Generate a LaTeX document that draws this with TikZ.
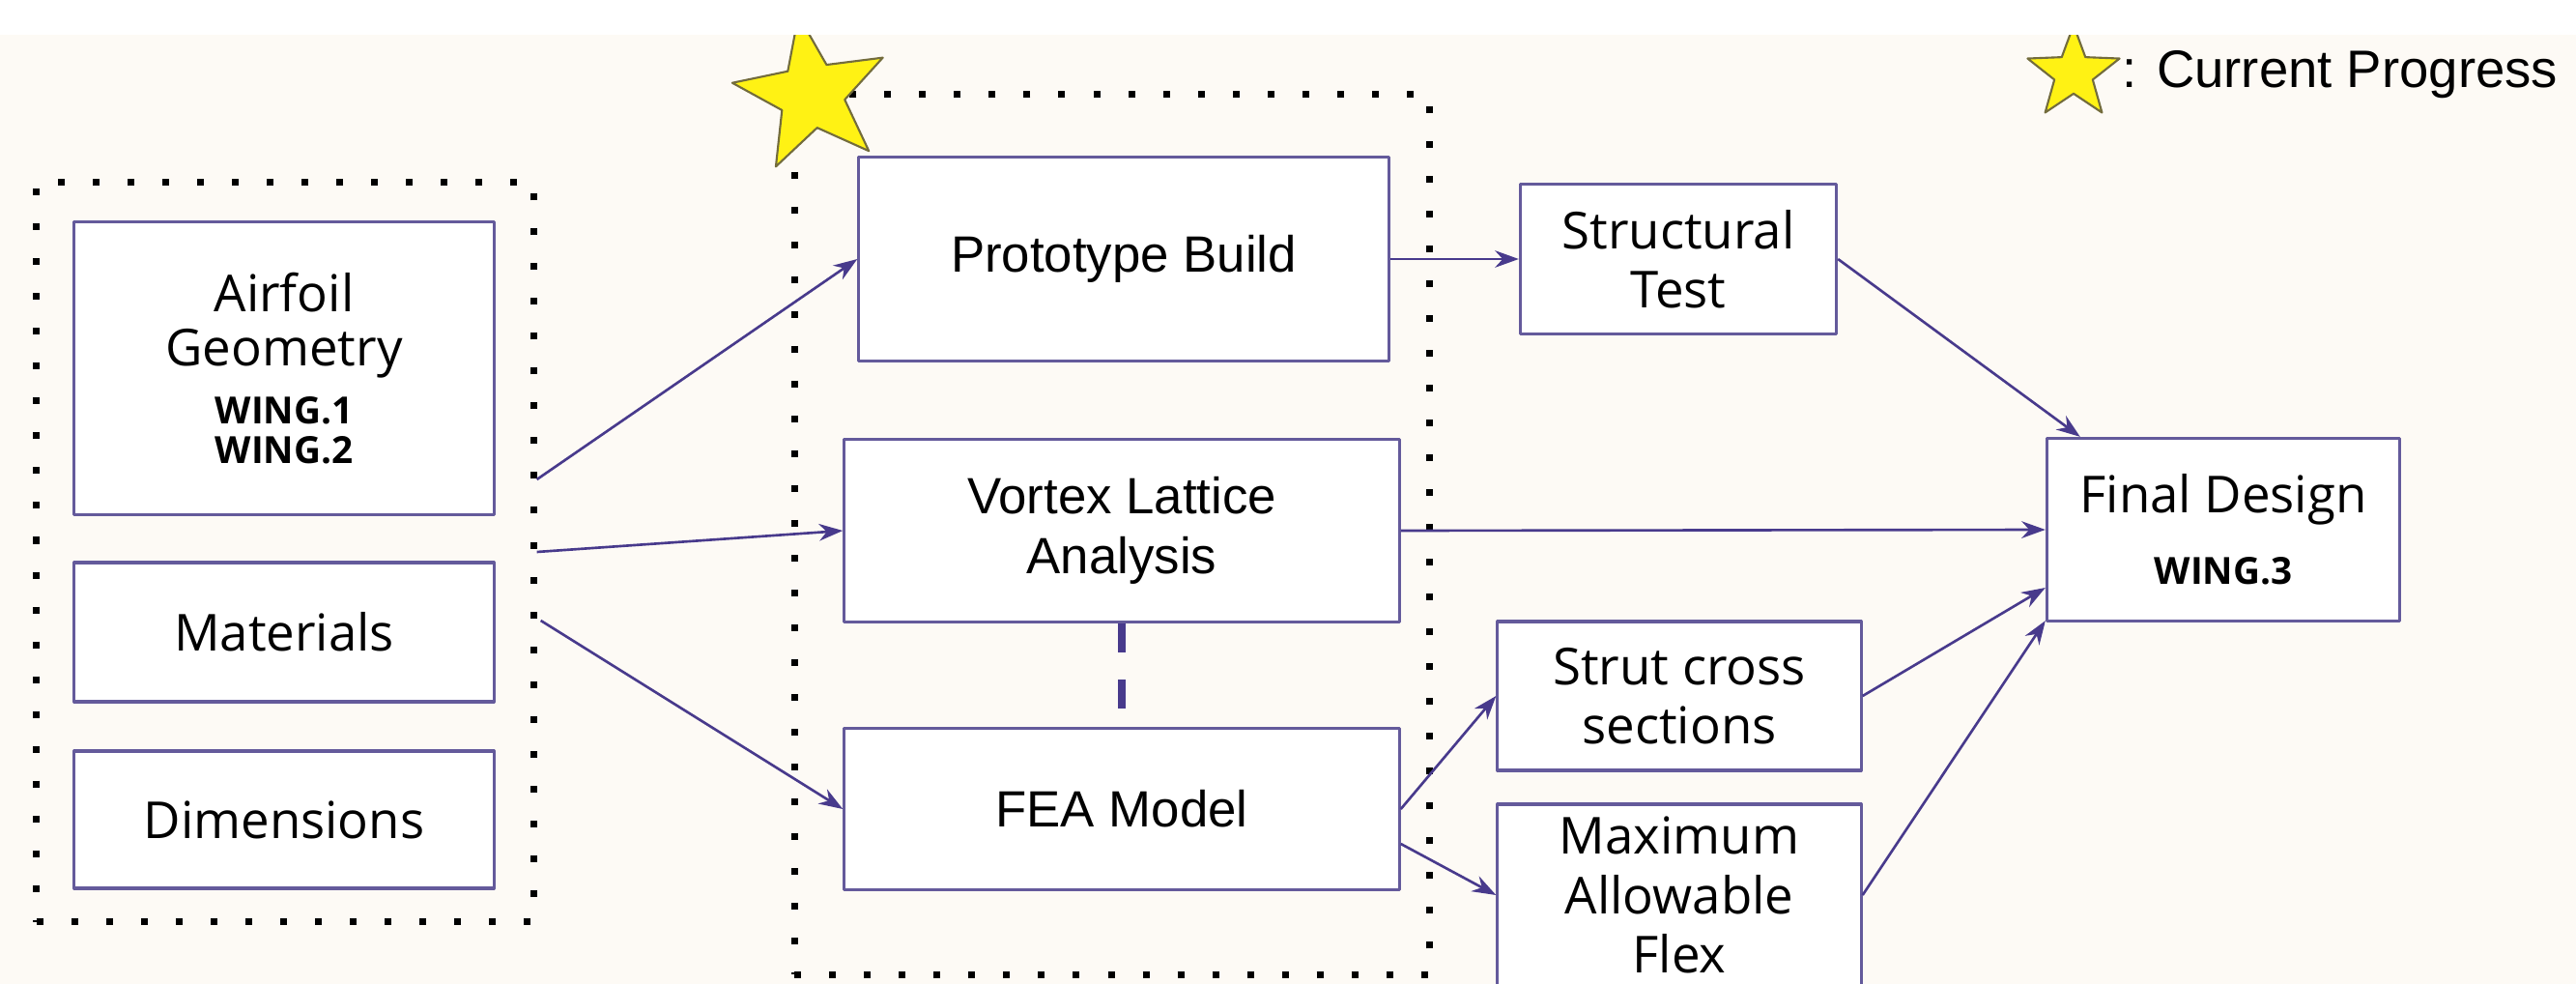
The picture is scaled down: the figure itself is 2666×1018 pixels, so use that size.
\documentclass[tikz,border=0pt]{standalone}
\usepackage{fontspec}
\setmainfont{Open Sans}
\newfontfamily\arialfont{Liberation Sans}
\usetikzlibrary{calc,arrows.meta,shapes.geometric}
\definecolor{cream}{RGB}{253,250,245}
\definecolor{boxline}{RGB}{100,90,155}
\definecolor{flowline}{RGB}{72,58,140}
\definecolor{starfill}{RGB}{255,242,20}
\definecolor{staredge}{RGB}{115,108,60}
\newcommand{\wingtag}[1]{{\fontsize{11}{13}\selectfont\bfseries #1}}

\begin{document}
\begin{tikzpicture}[x=0.01cm,y=-0.01cm,>={Stealth[length=7pt,width=5pt]},line join=round,
    stage/.style={draw=boxline,line width=0.9pt,fill=white,align=center,inner sep=0pt,
      font=\fontsize{15}{17.5}\selectfont},
    task/.style={stage,font=\arialfont\fontsize{15}{17.5}\selectfont},
    group/.style={draw,line width=0.07cm,dash pattern=on 0.07cm off 0.29cm,inner sep=0pt},
    flow/.style={->,draw=flowline,line width=0.75pt},
    marker/.style={star,star points=5,star point ratio=2.4,fill=starfill,draw=staredge,
      line width=0.6pt,inner sep=0pt}]
    \fill[cream] (0,0) rectangle (2666,1018);
    \useasboundingbox (0,0) rectangle (2666,1018);

    % dotted groups
    \node[group,minimum width=5.14cm,minimum height=7.65cm] (inputs) at (295,571){};
    \node[group,minimum width=6.57cm,minimum height=9.10cm] (analysis) at (1151,553){};

    % inputs
    \node[stage,minimum width=4.34cm,minimum height=3.02cm] (airfoil) at (294,381)
      {Airfoil\\[-1.5pt]Geometry\\[-0.5pt]\wingtag{WING.1}\\[-6pt]\wingtag{WING.2}};
    \node[stage,minimum width=4.34cm,minimum height=1.44cm] (materials) at (294,654){Materials};
    \node[stage,minimum width=4.34cm,minimum height=1.42cm] (dims) at (294,848){Dimensions};

    % analysis
    \node[task,minimum width=5.48cm,minimum height=2.11cm] (proto) at (1163,268){Prototype Build};
    \node[task,minimum width=5.74cm,minimum height=1.89cm] (vortex) at (1161,549){Vortex Lattice\\Analysis};
    \node[task,minimum width=5.74cm,minimum height=1.67cm] (fea) at (1161,837){FEA Model};

    % results
    \node[stage,minimum width=3.27cm,minimum height=1.55cm] (structural) at (1737,268){Structural\\Test};
    \node[stage,minimum width=3.76cm,minimum height=1.54cm] (strut) at (1738,720){Strut cross\\sections};
    \node[stage,minimum width=3.76cm,minimum height=1.88cm] (flex) at (1738,926){Maximum\\Allowable\\Flex};
    \node[stage,minimum width=3.65cm,minimum height=1.89cm] (final) at (2301,548)
      {Final Design\\[3.5pt]\wingtag{WING.3}};

    \draw[flow] ($(inputs.east)+(0,-75)$)--(proto.west);
    \draw[flow] (inputs.east)--(vortex.west);
    \draw[flow] ($(inputs.east)+(4,71)$)--(fea.west);
    \draw[flow] (proto.east)--(structural.west);
    \draw[flow] (structural.east)--($(final.north west)+(36,0)$);
    \draw[flow] (vortex.east)--(final.west);
    \draw[flow] (fea.east)--(strut.west);
    \draw[flow] ($(fea.east)+(0,36)$)--(flex.west);
    \draw[flow] (strut.east)--($(final.west)+(0,60)$);
    \draw[flow] (flex.east)--($(final.south west)+(0,-2)$);
    \draw[flowline,line width=2pt,dash pattern=on 0.3cm off 0.28cm] (vortex.south)--(fea.north);

    % stars
    \node[marker,minimum size=1.66cm,rotate=9.5] (progress) at (840,98){};
    \node[marker,minimum size=1cm] (legendstar) at (2146,76){};
    \node[anchor=west,inner sep=0pt,font=\arialfont\fontsize{15.5}{18}\selectfont] (legend) at (2196,77){: Current Progress};
    \fill[white] (0,0) rectangle (2666,36);
  \end{tikzpicture}
\end{document}
